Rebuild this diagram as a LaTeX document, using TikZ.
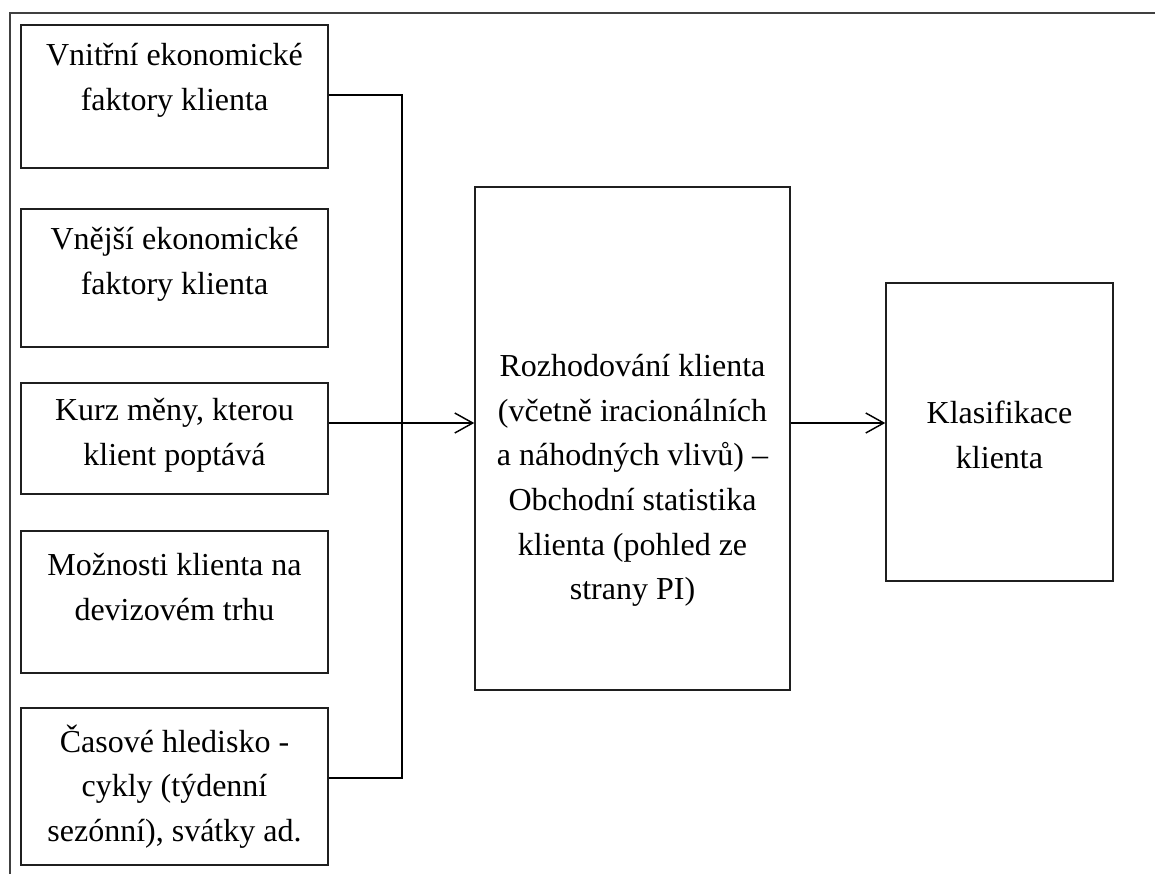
\documentclass[tikz,border=0pt]{standalone}
\usepackage{fontspec}
\setmainfont{Liberation Serif}
\usetikzlibrary{arrows.meta}
\begin{document}
\begin{tikzpicture}[x=0.75pt,y=-0.75pt,
  box/.style={draw=black!88, line width=1.1pt, inner sep=0pt},
  label/.style={align=center, inner sep=0pt, font=\fontsize{24pt}{33.5pt}\selectfont},
  link/.style={draw=black, line width=1.1pt},
  arr/.style={link, -{Straight Barb[length=13.5pt,width=15pt,line width=1.1pt]}},
  frame/.style={draw=black!75, line width=1.6pt}]
\useasboundingbox (0,0) rectangle (1155,874);

% frame edges
\draw[frame] (10,874) -- (10,13) -- (1160,13);

% input factors
\node[box, minimum width=230.25pt, minimum height=107.25pt] (b1) at (174.5,96.5) {};
\node[box, minimum width=230.25pt, minimum height=103.5pt]  (b2) at (174.5,278) {};
\node[box, minimum width=230.25pt, minimum height=83.25pt]  (b3) at (174.5,438.5) {};
\node[box, minimum width=230.25pt, minimum height=106.5pt]  (b4) at (174.5,602) {};
\node[box, minimum width=230.25pt, minimum height=117.75pt] (b5) at (174.5,786.5) {};

\node[label] (t1) at (174.5,80.5) {Vnitřní ekonomické\\faktory klienta};
\node[label] (t2) at (174.5,264) {Vnější ekonomické\\faktory klienta};
\node[label] (t3) at (174.5,435) {Kurz měny, kterou\\klient poptává};
\node[label] (t4) at (174.5,587) {Možnosti klienta na\\devizovém trhu};
\node[label] (t5) at (174.5,786.5) {Časové hledisko -\\cykly (týdenní\\sezónní), svátky ad.};

% decision and classification
\node[box, minimum width=236.25pt, minimum height=377.25pt] (mid) at (632.5,438.5) {};
\node[label] (tm) at (632.5,480.5) {Rozhodování klienta\\(včetně iracionálních\\a náhodných vlivů) –\\Obchodní statistika\\klienta (pohled ze\\strany PI)};

\node[box, minimum width=170.25pt, minimum height=223.5pt] (cls) at (999.5,432) {};
\node[label] (tc) at (999.5,435) {Klasifikace\\klienta};

% connectors
\coordinate (jt) at (402,95);
\coordinate (jb) at (402,778);
\coordinate (ay) at (0,423);
\draw[link] (b1.east |- jt) -- (jt) -- (jb) -- (b5.east |- jb);
\draw[arr] (b3.east |- ay) -- (mid.west |- ay);
\draw[arr] (mid.east |- ay) -- (cls.west |- ay);
\end{tikzpicture}
\end{document}
